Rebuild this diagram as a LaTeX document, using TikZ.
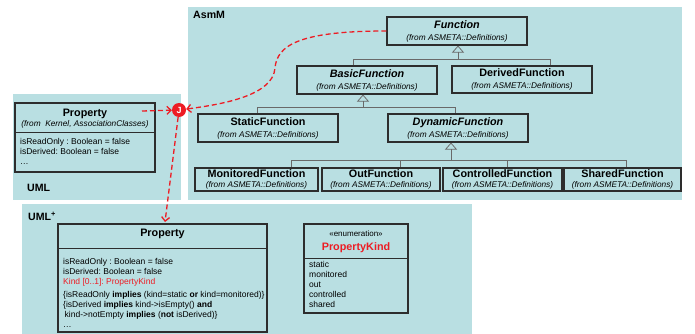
\documentclass[tikz,border=0pt]{standalone}
\usepackage{fontspec}
\setmainfont{Liberation Sans}
\usetikzlibrary{arrows.meta,calc}
\definecolor{panel}{RGB}{185,223,226}
\definecolor{boxc}{RGB}{45,45,45}
\definecolor{umlred}{RGB}{237,28,36}
\definecolor{genc}{RGB}{105,105,105}
\newcommand\ttl[1]{{\fontsize{10.8}{12}\selectfont\bfseries #1}}
\newcommand\frm[1]{{\fontsize{8.3}{10}\selectfont\itshape #1}}
\newcommand\attrfont{\fontsize{8.5}{10}\selectfont}
\newcommand\fromasm{\frm{(from ASMETA::Definitions)}}
\frenchspacing
\begin{document}
\begin{tikzpicture}[x=1pt,y=-1pt,
  panelbox/.style={fill=panel,draw=none},
  fbox/.style={draw=boxc,line width=1.1pt,inner sep=0pt,align=center},
  fboxa/.style={fbox,font=\fontsize{8}{12}\selectfont,minimum width=140,minimum height=28},
  fboxc/.style={fbox,font=\fontsize{8}{9.5}\selectfont,minimum height=23},
  cbox/.style={draw=boxc,line width=1.1pt,inner sep=0pt},
  divline/.style={draw=boxc,line width=0.9pt},
  txt/.style={inner sep=0pt},
  attrs/.style={inner sep=0pt,anchor=north west,align=left,font=\attrfont},
  lbl/.style={inner sep=0pt,anchor=west,font=\fontsize{10.6}{12}\selectfont\bfseries},
  gen/.style={draw=genc,line width=0.75pt},
  genarrow/.style={gen,-{Triangle[open,length=7pt,width=12pt]}},
  reddash/.style={draw=umlred,line width=1.3pt,dash pattern=on 5pt off 3pt,-{Straight Barb[length=4pt,width=8pt]}},
]
\useasboundingbox (0,0) rectangle (695,334);
% panels
\fill[panelbox] (188,7) rectangle (682,200);
\fill[panelbox] (13,94) rectangle (181,200);
\fill[panelbox] (22,204) rectangle (472,334);
\node[lbl] (asmlbl) at (193,15) {AsmM};
\node[lbl] (umllbl) at (27,188) {UML};
\node[lbl] (umlplbl) at (28,216) {UML\textsuperscript{+}};

% AsmM boxes
\node[fboxa] (func) at (457,31) {\ttl{\itshape Function}\\\fromasm};
\node[fboxa] (basic) at (367,80) {\ttl{\itshape BasicFunction}\\\fromasm};
\node[fboxa,minimum height=27] (derived) at (522,79.5) {\ttl{DerivedFunction}\\\fromasm};
\node[fboxa] (static) at (268,128) {\ttl{StaticFunction}\\\fromasm};
\node[fboxa] (dynamic) at (458,128) {\ttl{\itshape DynamicFunction}\\\fromasm};
\node[fboxc,minimum width=123] (mon) at (256.5,179.5) {\ttl{MonitoredFunction}\\\fromasm};
\node[fboxc,minimum width=118] (out) at (381,179.5) {\ttl{OutFunction}\\\fromasm};
\node[fboxc,minimum width=119] (ctrl) at (502.5,179.5) {\ttl{ControlledFunction}\\\fromasm};
\node[fboxc,minimum width=117] (shared) at (622.5,179.5) {\ttl{SharedFunction}\\\fromasm};

% generalizations
\coordinate (g1) at (458,59);
\coordinate (g1l) at (353,59);
\coordinate (g1r) at (550,59);
\draw[gen] (basic.north -| g1l) -- (g1l) -- (g1r) -- (derived.north -| g1r);
\draw[genarrow] (g1) -- (func.south -| g1);
\coordinate (g2) at (363,107);
\coordinate (g2l) at (257,107);
\coordinate (g2r) at (455,107);
\draw[gen] (static.north -| g2l) -- (g2l) -- (g2r) -- (dynamic.north -| g2r);
\draw[genarrow] (g2) -- (basic.south -| g2);
\coordinate (g3) at (451,160);
\coordinate (g3a) at (291,160);
\coordinate (g3b) at (400,160);
\coordinate (g3c) at (507,160);
\coordinate (g3d) at (626,160);
\draw[gen] (mon.north -| g3a) -- (g3a) -- (g3d) -- (shared.north -| g3d);
\draw[gen] (g3b) -- (out.north -| g3b);
\draw[gen] (g3c) -- (ctrl.north -| g3c);
\draw[genarrow] (g3) -- (dynamic.south -| g3);

% UML Property
\node[cbox,minimum width=140,minimum height=69] (uprop) at (85,137.5) {};
\node[txt] (upropt) at (85,113.5) {\ttl{Property}};
\node[txt] (upropf) at (85,124) {\frm{(from\ \ Kernel, AssociationClasses)}};
\draw[divline] (uprop.west |- 0,132) -- (uprop.east |- 0,132);
\node[attrs] (upropa) at (20,137.8) {isReadOnly : Boolean = false\\isDerived: Boolean = false\\\dots};

% UML+ Property
\node[cbox,minimum width=209,minimum height=108] (pplus) at (162.5,278) {};
\node[txt] (pplust) at (162.5,234) {\ttl{Property}};
\draw[divline] (pplus.west |- 0,248) -- (pplus.east |- 0,248);
\node[attrs] (pplusa) at (63,257.8) {isReadOnly : Boolean = false\\isDerived: Boolean = false\\
\textcolor{umlred}{Kind [0..1]: PropertyKind}\\[3pt]
\{isReadOnly \textbf{implies} (kind=static \textbf{or} kind=monitored)\}\\
\{isDerived \textbf{implies} kind->isEmpty() \textbf{and}\\
\hspace{1.5pt}kind->notEmpty \textbf{implies} (\textbf{not} isDerived)\}\\\dots};

% Enumeration
\node[cbox,minimum width=104,minimum height=89] (enum) at (356,268.5) {};
\node[txt,font=\fontsize{8}{9}\selectfont] (enums) at (356,234) {«enumeration»};
\node[txt,text=umlred] (enumn) at (356,247.5) {\ttl{PropertyKind}};
\draw[divline] (enum.west |- 0,258) -- (enum.east |- 0,258);
\node[attrs] (enuma) at (309,261) {static\\monitored\\out\\controlled\\shared};

% join and dependencies
\node[circle,fill=umlred,minimum size=14,inner sep=0pt,text=white,font=\fontsize{9}{9}\selectfont\bfseries] (j) at (179,110) {J};
\coordinate (ustart) at (142,111);
\coordinate (pdown) at (165,222);
\draw[reddash] (ustart) -- (j);
\draw[reddash] (func.west) .. controls (300,31) and (277,45) .. (275,68) .. controls (273,95) and (225,104) .. (j);
\draw[reddash] (j) -- (pdown);
\end{tikzpicture}
\end{document}
